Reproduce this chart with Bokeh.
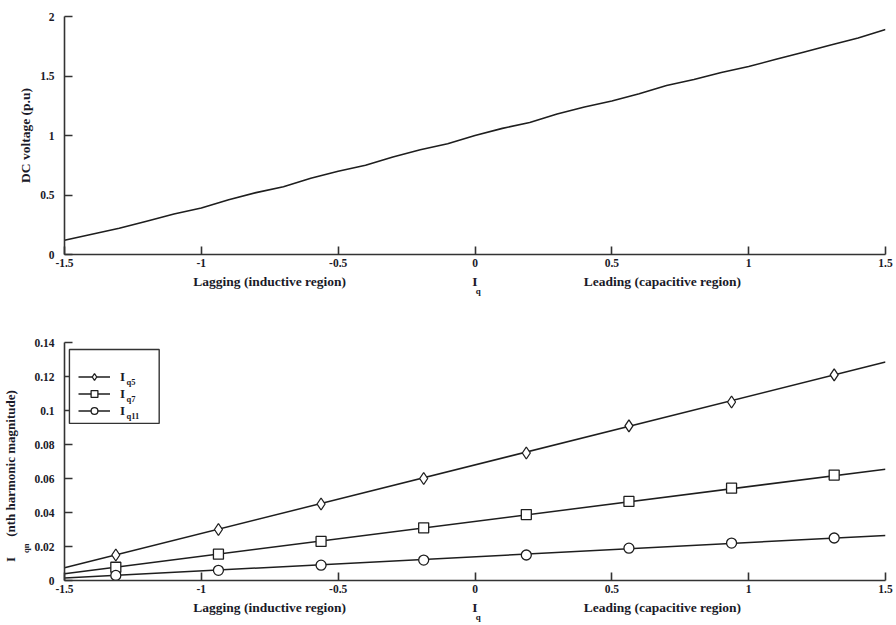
from bokeh.plotting import figure
from bokeh.layouts import column
from bokeh.models import (Label, BoxAnnotation, Legend, LegendItem, Range1d,
                          FixedTicker, LinearAxis)
from bokeh.embed import file_html
from bokeh.resources import INLINE

# --- DC-link voltage versus reactive current ---
dc_iq = [-1.5, -1.4, -1.3, -1.2, -1.1, -1.0, -0.9, -0.8, -0.7, -0.6, -0.5,
         -0.4, -0.3, -0.2, -0.1, 0.0, 0.1, 0.2, 0.3, 0.4, 0.5, 0.6, 0.7,
         0.8, 0.9, 1.0, 1.1, 1.2, 1.3, 1.4, 1.5]
dc_v = [0.12, 0.17, 0.22, 0.28, 0.34, 0.39, 0.46, 0.52, 0.57, 0.64, 0.70,
        0.75, 0.82, 0.88, 0.93, 1.00, 1.06, 1.11, 1.18, 1.24, 1.29, 1.35,
        1.42, 1.47, 1.53, 1.58, 1.64, 1.70, 1.76, 1.82, 1.89]

# --- harmonic magnitudes versus reactive current ---
harm_iq = [-1.3125, -0.9375, -0.5625, -0.1875, 0.1875, 0.5625, 0.9375, 1.3125]
iq5 = [0.015, 0.030, 0.045, 0.060, 0.075, 0.091, 0.105, 0.121]
iq7 = [0.0078, 0.0155, 0.023, 0.031, 0.0388, 0.0465, 0.0543, 0.062]
iq11 = [0.003, 0.006, 0.009, 0.012, 0.015, 0.019, 0.022, 0.025]

# straight-line trends across the full range
fit_iq = [-1.5, 1.5]
fit5 = [0.0075, 0.1285]
fit7 = [0.0040, 0.0655]
fit11 = [0.0015, 0.0265]

x_ticks = [-1.5, -1.0, -0.5, 0.0, 0.5, 1.0, 1.5]
x_tick_labels = ["-1.5", "-1", "-0.5", "0", "0.5", "1", "1.5"]
v_ticks = [0, 0.5, 1, 1.5, 2]
h_ticks = [0, 0.02, 0.04, 0.06, 0.08, 0.1, 0.12, 0.14]

# captions under the horizontal axis, placed at reactive-current positions
cap_pos = [-0.75, 0.0, 0.685]
cap_text = ["Lagging (inductive region)", "I", "Leading (capacitive region)"]
sub_pos = [0.012]
sub_text = ["q"]

FONT = "Liberation Serif"
INK = "#1e1e1e"
TXT = "#1a1a28"


def label_style(ax, size="11px"):
    ax.major_label_text_font = FONT
    ax.major_label_text_font_style = "bold"
    ax.major_label_text_font_size = size
    ax.major_label_text_color = TXT


def bare_axis(ticks, texts, size, standoff, orientation="horizontal"):
    ax = LinearAxis(ticker=FixedTicker(ticks=ticks),
                    major_label_overrides=dict(zip(ticks, texts)),
                    axis_line_color=None, major_tick_line_color=None,
                    minor_tick_line_color=None, major_tick_in=0,
                    major_tick_out=0, major_label_standoff=standoff,
                    major_label_orientation=orientation)
    label_style(ax, size)
    return ax


def style(p, yt):
    p.xgrid.visible = False
    p.ygrid.visible = False
    p.outline_line_color = None
    p.xaxis.ticker = FixedTicker(ticks=x_ticks)
    p.xaxis.major_label_overrides = dict(zip(x_ticks, x_tick_labels))
    p.yaxis.ticker = FixedTicker(ticks=yt)
    for ax in (p.xaxis[0], p.yaxis[0]):
        ax.axis_line_width = 1.6
        ax.axis_line_color = "#333333"
        ax.major_tick_in = 8
        ax.major_tick_out = 0
        ax.major_tick_line_width = 1.6
        ax.major_tick_line_color = "#333333"
        ax.minor_tick_line_color = None
        label_style(ax, "11.5px")
    p.xaxis.major_label_standoff = 4
    p.yaxis.major_label_standoff = 10
    p.add_layout(bare_axis(cap_pos, cap_text, "13.5px", 4), "below")
    p.add_layout(bare_axis(sub_pos, sub_text, "9px", -6), "below")


# top panel
top = figure(width=896, height=312, x_range=Range1d(-1.5, 1.5),
             y_range=Range1d(0, 2), output_backend="svg",
             toolbar_location=None, min_border_left=62, min_border_right=11,
             min_border_top=16, min_border_bottom=58)
style(top, v_ticks)
top.line(dc_iq, dc_v, line_color=INK, line_width=1.6)
top.yaxis.axis_label = "DC voltage (p.u)"
top.yaxis.axis_label_text_font = FONT
top.yaxis.axis_label_text_font_style = "bold"
top.yaxis.axis_label_text_font_size = "13.5px"
top.yaxis.axis_label_text_color = TXT
top.yaxis.axis_label_standoff = 4

# bottom panel
bot = figure(width=896, height=313, x_range=Range1d(-1.5, 1.5),
             y_range=Range1d(0, 0.14), output_backend="svg",
             toolbar_location=None, min_border_left=62, min_border_right=11,
             min_border_top=30, min_border_bottom=45)
style(bot, h_ticks)

series = [(fit5, iq5, "diamond", 12), (fit7, iq7, "square", 10),
          (fit11, iq11, "circle", 10)]
items = []
for fit, vals, marker, size in series:
    ln = bot.line(fit_iq, fit, line_color=INK, line_width=1.5)
    sc = bot.scatter(harm_iq, vals, marker=marker, size=size,
                     fill_color="white", line_color=INK, line_width=1.3)
    items.append(LegendItem(label="I", renderers=[ln, sc]))

bot.add_layout(BoxAnnotation(left=-1.482, right=-1.154, top=0.1359,
                             bottom=0.0924, fill_color="white", fill_alpha=1.0,
                             line_color="#333333", line_alpha=1.0,
                             line_width=1.4))
leg = Legend(items=items, location=(14, 161), padding=0, margin=0,
             spacing=0, glyph_width=32, glyph_height=17, label_height=17,
             label_standoff=10, border_line_color=None,
             background_fill_alpha=0.0, label_text_font=FONT,
             label_text_font_style="bold", label_text_font_size="13px",
             label_text_color=TXT)
bot.add_layout(leg, "center")
for i, sub in enumerate(["q5", "q7", "q11"]):
    bot.add_layout(Label(x=62, y=199 - 17 * i, x_units="screen",
                         y_units="screen", text=sub, text_font=FONT,
                         text_font_style="bold", text_font_size="8.5px",
                         text_color=TXT, text_align="left",
                         text_baseline="middle"))

# vertical caption "I_qn (nth harmonic magnitude)" built from two label rows
bot.add_layout(bare_axis([0.019], ["qn"], "8.5px", 0, "vertical"), "left")
bot.add_layout(bare_axis([0.0124, 0.0688], ["I", "(nth harmonic magnitude)"],
                         "13px", 0, "vertical"), "left")

layout = column(top, bot, spacing=0)
open("out.html", "w").write(file_html(layout, INLINE))
